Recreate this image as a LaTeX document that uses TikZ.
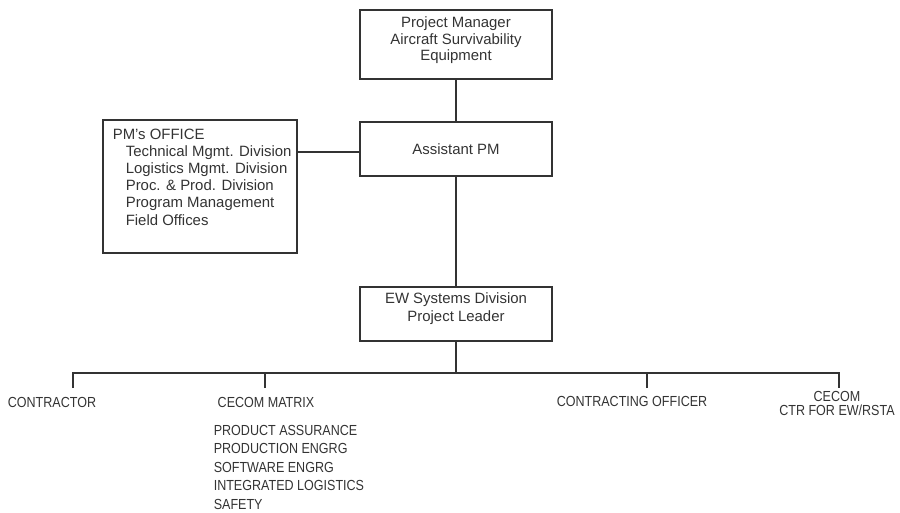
\documentclass[tikz,border=0pt]{standalone}
\usepackage{fontspec}
\setmainfont{Liberation Sans}
\newfontfamily\capsfont{Liberation Sans}[FakeStretch=0.86]
\begin{document}
\begin{tikzpicture}[x=0.02cm,y=-0.02cm,line width=0.9pt,draw=black!80,
  box/.style={draw,inner sep=0pt,minimum width=3.84cm,text=black!80,
    font=\fontsize{8.5}{9.4}\selectfont,align=center},
  lbl/.style={inner sep=0pt,text=black!80,font=\capsfont\fontsize{8.3}{7.9}\selectfont,align=center}]
  \useasboundingbox (0,0) rectangle (900,512);
  \node [box,minimum height=1.38cm,text depth=6.5pt] (pm) at (456,44.5)
    {Project Manager\\Aircraft Survivability\\Equipment};
  \node [box,minimum height=1.08cm] (apm) at (456,149) {Assistant PM};
  \node [box,minimum width=3.88cm,minimum height=2.66cm] (office) at (200,186.5) {};
  \node [anchor=base west,inner sep=0pt,text=black!80,align=left,
    font=\fontsize{8.5}{9.75}\selectfont] (officetext) at (112,225)
    {PM's OFFICE\\
     \hspace*{7.4pt}Technical Mgmt. Division\\
     \hspace*{7.4pt}Logistics Mgmt. Division\\
     \hspace*{7.4pt}Proc. \& Prod. Division\\
     \hspace*{7.4pt}Program Management\\
     \hspace*{7.4pt}Field Offices};
  \node [box,minimum height=1.08cm,text depth=7.5pt,
    font=\fontsize{8.5}{10.2}\selectfont] (ew) at (456,314)
    {EW Systems Division\\Project Leader};
  \draw (pm) -- (apm);
  \draw (apm) -- (ew);
  \draw (office.east |- 0,152) -- (apm.west |- 0,152);

  \coordinate (bus) at (456,373);
  \coordinate (t1) at (73,388);
  \coordinate (t2) at (265,388);
  \coordinate (t3) at (647,388);
  \coordinate (t4) at (839,388);
  \draw (ew) -- (bus);
  \draw (t1) -- (t1 |- bus) -- (t4 |- bus) -- (t4);
  \draw (t2) -- (t2 |- bus);
  \draw (t3) -- (t3 |- bus);

  \node [lbl,anchor=base] (contractor) at (52,407) {CONTRACTOR};
  \node [lbl,anchor=base] (matrix) at (266,407) {CECOM MATRIX};
  \node [lbl,anchor=base] (officer) at (632,406) {CONTRACTING OFFICER};
  \node [lbl,anchor=base] (ctr) at (837,415) {CECOM\\CTR FOR EW/RSTA};
  \node [lbl,anchor=base west,align=left,font=\capsfont\fontsize{8.3}{10.5}\selectfont]
    (matrixlist) at (213,509)
    {PRODUCT ASSURANCE\\PRODUCTION ENGRG\\SOFTWARE ENGRG\\INTEGRATED LOGISTICS\\SAFETY};
\end{tikzpicture}
\end{document}
